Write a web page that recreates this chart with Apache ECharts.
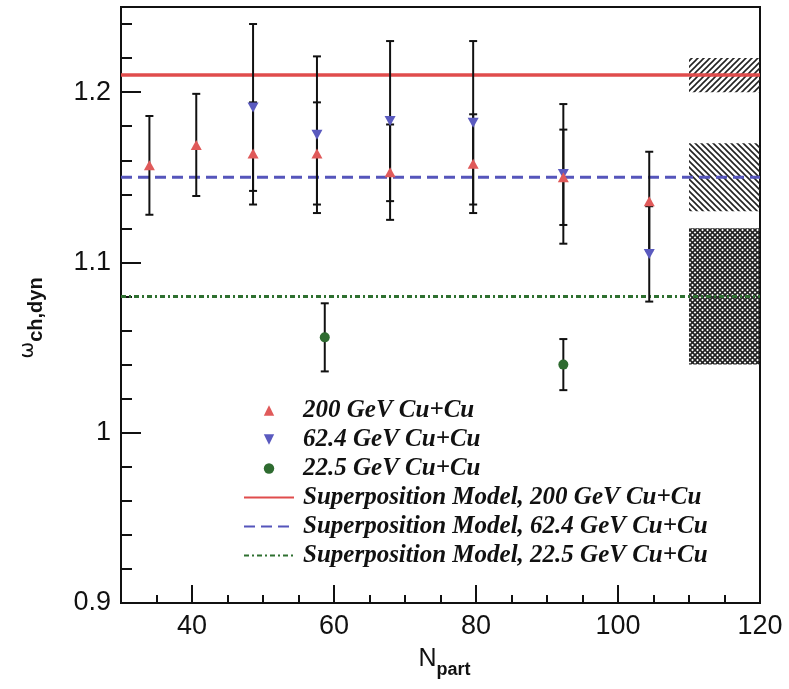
<!DOCTYPE html>
<html>
<head>
<meta charset="utf-8">
<script src="https://cdn.jsdelivr.net/npm/echarts@6/dist/echarts.min.js"></script>
<style>html,body{margin:0;padding:0;background:#fff}#c{width:789px;height:689px}</style>
</head>
<body>
<div id="c"></div>
<script>
// ---- data ----
const N200 = [34.0, 40.6, 48.6, 57.6, 67.9, 79.6, 92.3, 104.4];
const W200 = [1.157, 1.169, 1.164, 1.164, 1.153, 1.158, 1.150, 1.136];
const E200 = [0.029, 0.030, 0.030, 0.030, 0.028, 0.029, 0.028, 0.029];

const N62 = [48.6, 57.6, 67.9, 79.6, 92.3, 104.4];
const W62 = [1.191, 1.175, 1.183, 1.182, 1.152, 1.105];
const E62 = [0.049, 0.046, 0.047, 0.048, 0.041, 0.028];

const N22 = [58.7, 92.3];
const W22 = [1.056, 1.040];
const E22 = [0.020, 0.015];

const MODEL_200 = 1.21;
const MODEL_62 = 1.15;
const MODEL_22 = 1.08;

const SYS_X = [110, 120];
const SYS_LO = [1.20, 1.13, 1.04];
const SYS_HI = [1.22, 1.17, 1.12];

const X_LABELS = [40, 60, 80, 100, 120];
const Y_LABELS = [0.9, 1.0, 1.1, 1.2];

const NAMES = ['200 GeV Cu+Cu', '62.4 GeV Cu+Cu', '22.5 GeV Cu+Cu',
  'Superposition Model, 200 GeV Cu+Cu', 'Superposition Model, 62.4 GeV Cu+Cu',
  'Superposition Model, 22.5 GeV Cu+Cu'];

// ---- hatch patterns ----
function makePattern(kind) {
  const s = kind === 2 ? 5 : 6;
  const c = document.createElement('canvas');
  c.width = s; c.height = s;
  const g = c.getContext('2d');
  g.strokeStyle = '#222';
  g.lineWidth = 1.6;
  function fwd() { // "/" lines
    g.beginPath();
    g.moveTo(-1, s + 1); g.lineTo(s + 1, -1);
    g.moveTo(-1, 1); g.lineTo(1, -1);
    g.moveTo(s - 1, s + 1); g.lineTo(s + 1, s - 1);
    g.stroke();
  }
  function back() { // "\" lines
    g.beginPath();
    g.moveTo(-1, -1); g.lineTo(s + 1, s + 1);
    g.moveTo(s - 1, -1); g.lineTo(s + 1, 1);
    g.moveTo(-1, s - 1); g.lineTo(1, s + 1);
    g.stroke();
  }
  if (kind === 0) fwd();
  else if (kind === 1) back();
  else { g.strokeStyle = '#222'; g.lineWidth = 1.6; fwd(); back(); }
  return c;
}
const PATTERNS = [makePattern(0), makePattern(1), makePattern(2)];

function errData(N, W, E) {
  return N.map((n, i) => [n, W[i] - E[i], W[i] + E[i]]);
}

function errorRender(params, api) {
  const x = api.value(0), lo = api.value(1), hi = api.value(2);
  const a = api.coord([x, hi]), b = api.coord([x, lo]);
  const w = 4;
  const st = { stroke: '#111', lineWidth: 2 };
  return {
    type: 'group',
    children: [
      { type: 'line', shape: { x1: a[0], y1: a[1], x2: b[0], y2: b[1] }, style: st },
      { type: 'line', shape: { x1: a[0] - w, y1: a[1], x2: a[0] + w, y2: a[1] }, style: st },
      { type: 'line', shape: { x1: b[0] - w, y1: b[1], x2: b[0] + w, y2: b[1] }, style: st }
    ]
  };
}

function sysRender(params, api) {
  const p1 = api.coord([api.value(0), api.value(3)]);
  const p2 = api.coord([api.value(1), api.value(2)]);
  return {
    type: 'rect',
    shape: { x: p1[0], y: p1[1], width: p2[0] - p1[0], height: p2[1] - p1[1] },
    style: { fill: { image: PATTERNS[api.value(4)], repeat: 'repeat' }, stroke: null }
  };
}

const sysData = SYS_LO.map((lo, i) => [SYS_X[0], SYS_X[1], lo, SYS_HI[i], i]);

const chart = echarts.init(document.getElementById('c'), null, { renderer: 'canvas' });

const axisFont = { fontFamily: 'Liberation Sans', fontSize: 27, color: '#111' };
const hidden = { opacity: 0 };

chart.setOption({
  animation: false,
  backgroundColor: '#fff',
  grid: { left: 121, right: 29, top: 7, bottom: 86, show: true, borderColor: '#111', borderWidth: 2, backgroundColor: 'transparent' },
  xAxis: [{
    type: 'value', min: 30, max: 120, interval: 5,
    axisLine: { show: true, lineStyle: { color: '#111', width: 2 } },
    axisTick: { inside: true, length: 8, lineStyle: { color: '#111', width: 2 } },
    axisLabel: Object.assign({ margin: 10, customValues: X_LABELS }, axisFont),
    splitLine: { show: false },
    name: '{n|N}{s|part}',
    nameLocation: 'middle', nameGap: 45,
    nameTextStyle: {
      padding: [0, 0, 0, 8],
      rich: {
        n: { fontFamily: 'Liberation Sans', fontSize: 25, color: '#111', lineHeight: 30, height: 22, verticalAlign: 'top' },
        s: { fontFamily: 'Liberation Sans', fontSize: 18, fontWeight: 'bold', color: '#111', lineHeight: 30, height: 16, verticalAlign: 'bottom' }
      }
    }
  }, {
    type: 'value', min: 30, max: 120, position: 'bottom',
    axisLine: { show: false },
    axisTick: { show: true, inside: true, length: 18, customValues: X_LABELS, lineStyle: { color: '#111', width: 2 } },
    axisLabel: { show: false },
    splitLine: { show: false }
  }],
  yAxis: [{
    type: 'value', min: 0.9, max: 1.25, interval: 0.02,
    axisLine: { show: true, lineStyle: { color: '#111', width: 2 } },
    axisTick: { inside: true, length: 11, lineStyle: { color: '#111', width: 2 } },
    axisLabel: Object.assign({ margin: 10, customValues: Y_LABELS, formatter: v => String(+(+v).toFixed(2)) }, axisFont),
    splitLine: { show: false },
    name: '{w|ω}{s|ch,dyn}',
    nameLocation: 'middle', nameRotate: 90, nameGap: 76,
    nameTextStyle: {
      padding: [0, 26, 0, 0],
      rich: {
        w: { fontFamily: 'DejaVu Sans', fontSize: 20, color: '#111', lineHeight: 26, height: 18, verticalAlign: 'top' },
        s: { fontFamily: 'Liberation Sans', fontSize: 20, fontWeight: 'bold', color: '#111', lineHeight: 26, height: 18, verticalAlign: 'bottom' }
      }
    }
  }, {
    type: 'value', min: 0.9, max: 1.25, position: 'left',
    axisLine: { show: false },
    axisTick: { show: true, inside: true, length: 20, customValues: Y_LABELS, lineStyle: { color: '#111', width: 2 } },
    axisLabel: { show: false },
    splitLine: { show: false }
  }],
  legend: {
    orient: 'vertical', left: 238, top: 393,
    itemWidth: 50, itemHeight: 13, itemGap: 4,
    data: [
      { name: NAMES[0] }, { name: NAMES[1] }, { name: NAMES[2] },
      { name: NAMES[3], itemStyle: hidden },
      { name: NAMES[4], itemStyle: hidden },
      { name: NAMES[5], itemStyle: hidden }
    ],
    textStyle: { fontFamily: 'Liberation Serif', fontStyle: 'italic', fontWeight: 'bold', fontSize: 25, color: '#111', padding: [0, 0, 0, 4] }
  },
  series: [
    { type: 'custom', name: 'sys', renderItem: sysRender, data: sysData, z: 1, silent: true,
      encode: { x: [0, 1], y: [2, 3] } },
    { type: 'line', name: NAMES[3], data: [[30, MODEL_200], [120, MODEL_200]], symbol: 'none', z: 2,
      lineStyle: { color: '#e04c4c', width: 3.5, type: 'solid' }, itemStyle: { color: '#e04c4c' } },
    { type: 'line', name: NAMES[4], data: [[30, MODEL_62], [120, MODEL_62]], symbol: 'none', z: 2,
      lineStyle: { color: '#5555bb', width: 3, type: [11, 6] }, itemStyle: { color: '#5555bb' } },
    { type: 'line', name: NAMES[5], data: [[30, MODEL_22], [120, MODEL_22]], symbol: 'none', z: 2,
      lineStyle: { color: '#2e7030', width: 3, type: [5, 3, 2, 3] }, itemStyle: { color: '#2e7030' } },
    { type: 'custom', name: 'err200', renderItem: errorRender, data: errData(N200, W200, E200), z: 3,
      encode: { x: 0, y: [1, 2] } },
    { type: 'custom', name: 'err62', renderItem: errorRender, data: errData(N62, W62, E62), z: 3,
      encode: { x: 0, y: [1, 2] } },
    { type: 'custom', name: 'err22', renderItem: errorRender, data: errData(N22, W22, E22), z: 3,
      encode: { x: 0, y: [1, 2] } },
    { type: 'line', name: NAMES[1], data: N62.map((n, i) => [n, W62[i]]), symbol: 'triangle', symbolRotate: 180,
      showSymbol: true, symbolSize: [11, 10], lineStyle: { width: 0, opacity: 0 },
      itemStyle: { color: '#5a5abf', borderWidth: 0 }, z: 4 },
    { type: 'line', name: NAMES[0], data: N200.map((n, i) => [n, W200[i]]), symbol: 'triangle',
      showSymbol: true, symbolSize: [11, 10], lineStyle: { width: 0, opacity: 0 },
      itemStyle: { color: '#e05a5a', borderWidth: 0 }, z: 5 },
    { type: 'line', name: NAMES[2], data: N22.map((n, i) => [n, W22[i]]), symbol: 'circle',
      showSymbol: true, symbolSize: 10, lineStyle: { width: 0, opacity: 0 },
      itemStyle: { color: '#2e6b30', borderWidth: 0 }, z: 5 }
  ]
});
</script>
</body>
</html>
